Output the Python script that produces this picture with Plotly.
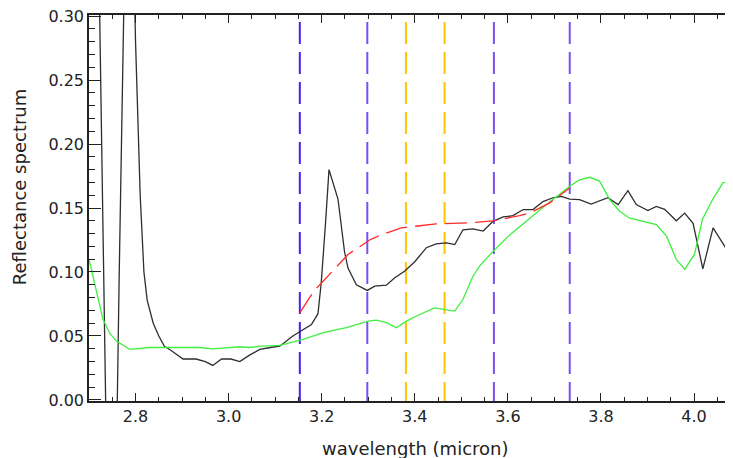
import plotly.graph_objects as go

# ---- data ----
black_x = [2.700, 2.740, 2.760, 2.765, 2.785, 2.800, 2.810, 2.818, 2.825, 2.838, 2.850, 2.862,
           2.875, 2.890, 2.902, 2.930, 2.950, 2.966, 2.985, 3.005, 3.024, 3.045, 3.067, 3.090,
           3.110, 3.138, 3.178, 3.192, 3.199, 3.208, 3.2157, 3.235, 3.249, 3.2565, 3.2745,
           3.298, 3.314, 3.339, 3.357, 3.378, 3.400, 3.425, 3.446, 3.468, 3.486, 3.5035,
           3.525, 3.547, 3.568, 3.590, 3.611, 3.633, 3.654, 3.6755, 3.697, 3.715, 3.733,
           3.754, 3.779, 3.815, 3.837, 3.858, 3.876, 3.901, 3.919, 3.937, 3.962, 3.980,
           3.998, 4.019, 4.041, 4.080, 4.100]
black_y = [0.84, -0.10, -0.02, 0.10, 0.52, 0.28, 0.16, 0.10, 0.078, 0.060, 0.050, 0.042,
           0.039, 0.035, 0.032, 0.032, 0.030, 0.027, 0.032, 0.032, 0.030, 0.035, 0.0395, 0.041,
           0.042, 0.050, 0.059, 0.0674, 0.0916, 0.137, 0.180, 0.157, 0.116, 0.103, 0.090,
           0.0856, 0.089, 0.0897, 0.0955, 0.1006, 0.108, 0.119, 0.122, 0.1228, 0.1214, 0.133,
           0.1337, 0.132, 0.1396, 0.143, 0.144, 0.1488, 0.1488, 0.155, 0.158, 0.159, 0.157,
           0.1566, 0.153, 0.158, 0.1527, 0.1636, 0.1527, 0.148, 0.1513, 0.149, 0.140, 0.146,
           0.138, 0.1025, 0.1345, 0.112, 0.100]

green_x = [2.700, 2.716, 2.730, 2.745, 2.759, 2.7875, 2.810, 2.830, 2.900, 2.938, 2.966, 3.000,
           3.024, 3.045, 3.070, 3.110, 3.160, 3.203, 3.253, 3.2995, 3.3175, 3.339, 3.3605,
           3.382, 3.4105, 3.443, 3.461, 3.486, 3.5035, 3.525, 3.540, 3.568, 3.604, 3.647,
           3.683, 3.733, 3.754, 3.776, 3.797, 3.819, 3.840, 3.862, 3.890, 3.919, 3.941,
           3.962, 3.980, 4.001, 4.018, 4.040, 4.062, 4.080, 4.100]
green_y = [0.110, 0.086, 0.063, 0.052, 0.046, 0.0395, 0.040, 0.041, 0.041, 0.041, 0.040, 0.041,
           0.0416, 0.041, 0.042, 0.0427, 0.0473, 0.0526, 0.0565, 0.0616, 0.0624, 0.0604, 0.0565,
           0.0616, 0.0668, 0.072, 0.0707, 0.0694, 0.0785, 0.0967, 0.105, 0.116, 0.129, 0.142,
           0.1527, 0.167, 0.172, 0.174, 0.171, 0.1566, 0.1475, 0.142, 0.1396, 0.137, 0.128,
           0.1098, 0.102, 0.1137, 0.141, 0.1566, 0.1696, 0.171, 0.171]

red_x = [3.153, 3.183, 3.198, 3.241, 3.2565, 3.303, 3.321, 3.371, 3.446, 3.518, 3.568, 3.625,
         3.647, 3.690, 3.733]
red_y = [0.068, 0.085, 0.0908, 0.108, 0.1137, 0.125, 0.128, 0.1345, 0.1376, 0.1384, 0.140,
         0.144, 0.146, 0.154, 0.1657]

vline_x = [3.153, 3.298, 3.381, 3.464, 3.570, 3.733]
vline_colors = ["#4a1cff", "#7a50f0", "#ffc400", "#ffc400", "#7a50f0", "#7a50f0"]

x_range = [2.70, 4.0838]
y_range = [-0.0008, 0.3008]

FONT = "DejaVu Sans"
TXT = "#222222"

fig = go.Figure()

for vx, vc in zip(vline_x, vline_colors):
    fig.add_trace(go.Scatter(x=[vx, vx], y=[y_range[1] + 0.018, y_range[0]], mode="lines",
                             line=dict(color=vc, width=2, dash="22px,8px"),
                             hoverinfo="skip", showlegend=False))

fig.add_trace(go.Scatter(x=black_x, y=black_y, mode="lines",
                         line=dict(color="#2e2e2e", width=1.3), showlegend=False))
fig.add_trace(go.Scatter(x=green_x, y=green_y, mode="lines",
                         line=dict(color="#3ef03e", width=1.3), showlegend=False))
fig.add_trace(go.Scatter(x=red_x, y=red_y, mode="lines",
                         line=dict(color="#ff2a2a", width=1.3, dash="22px,8px"),
                         showlegend=False))

# page body has an 8px margin: figure is 725x450 so that it ends at the window edge
fig.update_layout(
    width=725, height=450,
    margin=dict(l=81, r=0, t=7, b=57),
    paper_bgcolor="white", plot_bgcolor="white",
    font=dict(family=FONT, size=16, color=TXT),
    xaxis=dict(range=x_range, showgrid=False, zeroline=False,
               showline=True, linecolor=TXT, linewidth=1.5, mirror="ticks",
               ticks="inside", ticklen=8, tickcolor=TXT, tickwidth=1.3,
               tick0=2.8, dtick=0.2, tickformat=".1f", ticklabeloverflow="allow",
               minor=dict(dtick=0.05, ticks="inside", ticklen=4, tickcolor=TXT, tickwidth=1.3)),
    yaxis=dict(range=y_range, showgrid=False, zeroline=False,
               showline=True, linecolor=TXT, linewidth=1.5, mirror=False,
               ticks="inside", ticklen=12, tickcolor=TXT, tickwidth=1.3,
               tick0=0, dtick=0.05, tickformat=".2f", ticklabeloverflow="allow",
               minor=dict(dtick=0.01, ticks="inside", ticklen=6, tickcolor=TXT, tickwidth=1.3)),
    yaxis2=dict(range=y_range, overlaying="y", side="right", showgrid=False, zeroline=False,
                showline=False, ticks="inside", ticklen=5, tickcolor=TXT, tickwidth=1.3,
                tick0=0, dtick=0.05, showticklabels=False),
    annotations=[
        dict(text="wavelength (micron)", xref="x", yref="paper", x=3.40, y=-0.124,
             xanchor="center", yanchor="middle", showarrow=False,
             font=dict(family=FONT, size=18, color=TXT)),
        dict(text="Reflectance spectrum", xref="paper", yref="paper", x=-0.1087, y=0.554,
             xanchor="center", yanchor="middle", textangle=-90, showarrow=False,
             font=dict(family=FONT, size=18, color=TXT)),
    ],
)

fig.write_html("out.html")
